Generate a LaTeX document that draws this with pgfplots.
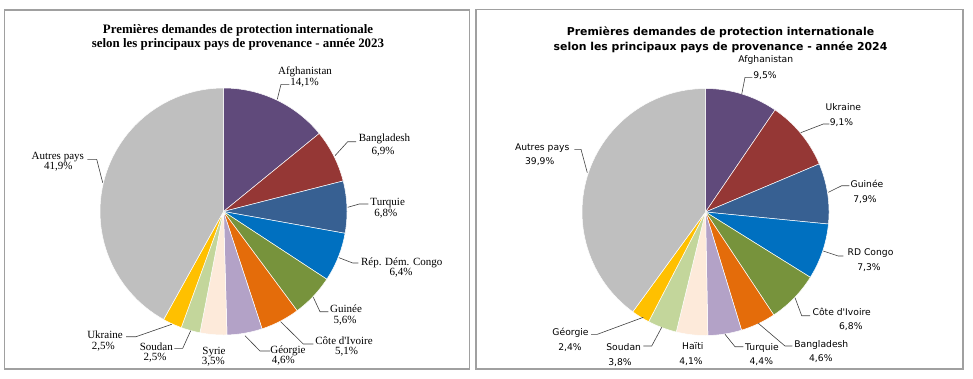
\documentclass[border=0pt]{standalone}
\usepackage{pgfplots}
\pgfplotsset{compat=1.18}
\usepackage{fontspec}
\setmainfont{Liberation Serif}
\newfontfamily\sansf{DejaVu Sans}
\newfontfamily\seriff{Liberation Serif}

\definecolor{c1}{HTML}{604A7B}
\definecolor{c2}{HTML}{953735}
\definecolor{c3}{HTML}{376092}
\definecolor{c4}{HTML}{0070C0}
\definecolor{c5}{HTML}{77933C}
\definecolor{c6}{HTML}{E46C0A}
\definecolor{c7}{HTML}{B3A2C7}
\definecolor{c8}{HTML}{FDEADA}
\definecolor{c9}{HTML}{C3D69B}
\definecolor{c10}{HTML}{FFC000}
\definecolor{c11}{HTML}{BFBFBF}
\definecolor{boxc}{HTML}{A0A0A0}

% slice: cx, cy, colour, cumulative start, cumulative end, total (radius 123.5)
\newcommand{\slice}[6]{%
  \addplot[draw=white, line width=0.5pt, fill=#3, domain={#4}:{#5}, samples=60, variable=\t]
    ({#1+123.5*sin(360*\t/#6)}, {#2-123.5*cos(360*\t/#6)}) -- (axis cs:#1,#2) -- cycle;}
% leader line
\newcommand{\lead}[6]{\addplot[black!75, line width=0.6pt] coordinates {(#1,#2) (#3,#4) (#5,#6)};}
% label: font, x, y, name, x2, y2, value
\newcommand{\lab}[7]{%
  \node[font=#1, inner sep=0pt, text height=0.7em, text depth=0pt] at (axis cs:#2,#3) {#4};
  \node[font=#1, inner sep=0pt, text height=0.7em, text depth=0pt] at (axis cs:#5,#6) {#7};}
\newcommand{\lf}{\seriff\fontsize{11}{12}\selectfont}
\newcommand{\rf}{\sansf\fontsize{9.2}{11}\selectfont}

\begin{document}
\begin{tikzpicture}
\begin{axis}[
  width=973pt, height=378pt, scale only axis,
  xmin=0, xmax=973, ymin=0, ymax=378, y dir=reverse,
  enlargelimits=false, hide axis, clip=false]
\path (axis cs:0,0) rectangle (axis cs:973,378);
% frames
\draw[boxc, line width=1.2pt] (axis cs:4.5,10) rectangle (axis cs:469.5,369);
\draw[boxc, line width=1.2pt] (axis cs:476,9.5) rectangle (axis cs:963,369);

% ---------------- 2023 ----------------
% values: 14.1 6.9 6.8 6.4 5.6 5.1 4.6 3.5 2.5 2.5 41.9 (total 99.9)
\slice{223.5}{211.5}{c1}{0}{14.1}{99.9}
\slice{223.5}{211.5}{c2}{14.1}{21.0}{99.9}
\slice{223.5}{211.5}{c3}{21.0}{27.8}{99.9}
\slice{223.5}{211.5}{c4}{27.8}{34.2}{99.9}
\slice{223.5}{211.5}{c5}{34.2}{39.8}{99.9}
\slice{223.5}{211.5}{c6}{39.8}{44.9}{99.9}
\slice{223.5}{211.5}{c7}{44.9}{49.5}{99.9}
\slice{223.5}{211.5}{c8}{49.5}{53.0}{99.9}
\slice{223.5}{211.5}{c9}{53.0}{55.5}{99.9}
\slice{223.5}{211.5}{c10}{55.5}{58.0}{99.9}
\slice{223.5}{211.5}{c11}{58.0}{99.9}{99.9}

\node[font=\seriff\bfseries\fontsize{12.9}{14.8}\selectfont, align=center, inner sep=0pt] at (axis cs:238,37.5)
  {Premières demandes de protection internationale\\selon les principaux pays de provenance - année 2023};

\lead{277.3}{99.3}{281}{84.3}{289.3}{84.3}
\lab{\lf}{305}{70.7}{Afghanistan}{304.5}{81.5}{14,1\%}
\lead{335}{155.7}{347.7}{141.7}{356}{141.7}
\lab{\lf}{384.5}{138.3}{Bangladesh}{383}{150.5}{6,9\%}
\lead{347.7}{207.3}{359.3}{204}{368.3}{204}
\lab{\lf}{387.7}{201.7}{Turquie}{385.7}{213}{6,8\%}
\lead{339}{257.7}{352.7}{263}{358.3}{263}
\lab{\lf}{401.7}{261.7}{Rép. Dém. Congo}{401}{271.5}{6,4\%}
\lead{313.3}{297.3}{320}{311.7}{328.3}{311.7}
\lab{\lf}{346}{309.3}{Guinée}{345}{319.5}{5,6\%}
\lead{280.7}{321.7}{303.3}{344}{313.3}{344}
\lab{\lf}{344}{340.7}{Côte d'Ivoire}{346.7}{350.7}{5,1\%}
\lead{245}{335.7}{260}{351}{270}{351}
\lab{\lf}{288}{350}{Géorgie}{283.3}{359.8}{4,6\%}
\lab{\lf}{214}{350.7}{Syrie}{213.3}{360.7}{3,5\%}
\lead{190.7}{330.7}{182.7}{348.3}{174.3}{348.3}
\lab{\lf}{156.3}{346.7}{Soudan}{155}{357}{2,5\%}
\lead{171.7}{324.3}{136}{336.7}{126}{336.7}
\lab{\lf}{105}{335}{Ukraine}{103.3}{346.3}{2,5\%}
\lead{102.7}{182.7}{96.7}{159.3}{87.3}{159.3}
\lab{\lf}{57.8}{156}{Autres pays}{58.3}{166}{41,9\%}

% ---------------- 2024 ----------------
% values: 9.5 9.1 7.9 7.3 6.8 4.6 4.4 4.1 3.8 2.4 39.9 (total 99.8)
\slice{705.5}{212}{c1}{0}{9.5}{99.8}
\slice{705.5}{212}{c2}{9.5}{18.6}{99.8}
\slice{705.5}{212}{c3}{18.6}{26.5}{99.8}
\slice{705.5}{212}{c4}{26.5}{33.8}{99.8}
\slice{705.5}{212}{c5}{33.8}{40.6}{99.8}
\slice{705.5}{212}{c6}{40.6}{45.2}{99.8}
\slice{705.5}{212}{c7}{45.2}{49.6}{99.8}
\slice{705.5}{212}{c8}{49.6}{53.7}{99.8}
\slice{705.5}{212}{c9}{53.7}{57.5}{99.8}
\slice{705.5}{212}{c10}{57.5}{59.9}{99.8}
\slice{705.5}{212}{c11}{59.9}{99.8}{99.8}

\node[font=\sansf\bfseries\fontsize{10.9}{15.4}\selectfont, align=center, inner sep=0pt] at (axis cs:720.5,40)
  {Premières demandes de protection internationale\\selon les principaux pays de provenance - année 2024};

\lead{741.7}{94.3}{745}{77.3}{752.3}{77.3}
\lab{\rf}{765.8}{59}{Afghanistan}{765}{75}{9,5\%}
\lead{800.7}{132.7}{823.3}{124}{829.3}{124}
\lab{\rf}{843.3}{107.3}{Ukraine}{841.5}{122.3}{9,1\%}
\lead{828.3}{192.3}{841.7}{185.7}{849.3}{185.7}
\lab{\rf}{867}{184}{Guinée}{865}{199.3}{7,9\%}
\lead{823.3}{251}{838.3}{256}{843.3}{256}
\lab{\rf}{870.5}{252.3}{RD Congo}{869}{267.3}{7,3\%}
\lead{795}{297.7}{801.7}{315.7}{810}{315.7}
\lab{\rf}{841.7}{311.7}{Côte d'Ivoire}{850.8}{326}{6,8\%}
\lead{758.3}{323.3}{785}{346}{792.3}{346}
\lab{\rf}{821.3}{344}{Bangladesh}{820.8}{358.3}{4,6\%}
\lead{725}{334.3}{735}{346.7}{743.3}{346.7}
\lab{\rf}{762}{346.7}{Turquie}{761.3}{361}{4,4\%}
\lab{\rf}{692.8}{346}{Haïti}{691}{361}{4,1\%}
\lead{661.7}{327.3}{651.7}{346}{643.3}{346}
\lab{\rf}{623.7}{346.7}{Soudan}{620}{361.7}{3,8\%}
\lead{643.3}{317.3}{597.3}{334.3}{591}{334.3}
\lab{\rf}{570.5}{331.7}{Géorgie}{570}{346.7}{2,4\%}
\lead{587.3}{172.7}{581}{149.3}{574.3}{149.3}
\lab{\rf}{542.2}{146.7}{Autres pays}{539.7}{161}{39,9\%}
\end{axis}
\end{tikzpicture}
\end{document}
